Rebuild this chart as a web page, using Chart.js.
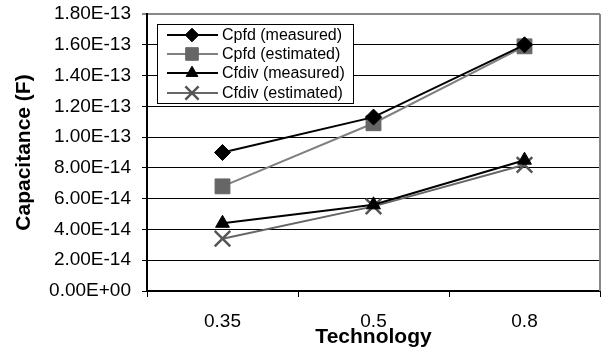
<!DOCTYPE html>
<html>
<head>
<meta charset="utf-8">
<script src="https://cdn.jsdelivr.net/npm/chart.js@4/dist/chart.umd.min.js"></script>
<style>
  html, body { margin: 0; padding: 0; background: #fff; }
  #wrap { width: 603px; height: 351px; }
</style>
</head>
<body>
<div id="wrap"><canvas id="grafico"></canvas></div>
<script>
// datos
const categories = ['0.35', '0.5', '0.8'];
const cpfdMeasured = [9.0e-14, 1.13e-13, 1.60e-13];
const cpfdEstimated = [6.8e-14, 1.09e-13, 1.59e-13];
const cfdivMeasured = [4.4e-14, 5.6e-14, 8.5e-14];
const cfdivEstimated = [3.4e-14, 5.5e-14, 8.2e-14];
const yTickValues = [0, 2e-14, 4e-14, 6e-14, 8e-14, 1e-13, 1.2e-13, 1.4e-13, 1.6e-13, 1.8e-13];
const yTickLabels = ['0.00E+00', '2.00E-14', '4.00E-14', '6.00E-14', '8.00E-14',
                     '1.00E-13', '1.20E-13', '1.40E-13', '1.60E-13', '1.80E-13'];

const FONT = 'Liberation Sans, Arial, sans-serif';

const series = [
  { label: 'Cpfd (measured)', data: cpfdMeasured, line: '#000', point: '#000', style: 'rectRot', radius: 8, bw: 1 },
  { label: 'Cpfd (estimated)', data: cpfdEstimated, line: '#808080', point: '#666', style: 'rect', radius: 10.5, bw: 1 },
  { label: 'Cfdiv (measured)', data: cfdivMeasured, line: '#000', point: '#000', style: 'triangle', radius: 8, bw: 1 },
  { label: 'Cfdiv (estimated)', data: cfdivEstimated, line: '#666', point: '#555', style: 'crossRot', radius: 11, bw: 2.5 }
];

// leyenda dibujada dentro del area y borde gris derecho
const extras = {
  id: 'extras',
  afterDraw(chart) {
    const ctx = chart.ctx;
    const area = chart.chartArea;
    ctx.save();
    ctx.strokeStyle = '#888';
    ctx.lineWidth = 2;
    ctx.beginPath();
    ctx.moveTo(area.right, area.top);
    ctx.lineTo(area.right, area.bottom);
    ctx.stroke();

    // caja de la leyenda
    const bx = 157.5, by = 24.5, bw = 196, bh = 79;
    ctx.fillStyle = '#fff';
    ctx.fillRect(bx, by, bw, bh);
    ctx.strokeStyle = '#000';
    ctx.lineWidth = 1;
    ctx.strokeRect(bx, by, bw, bh);

    const rows = [35, 54, 73, 93];
    ctx.font = '16px ' + FONT;
    ctx.textBaseline = 'middle';
    series.forEach((s, i) => {
      const y = rows[i];
      ctx.strokeStyle = s.line;
      ctx.lineWidth = 2;
      ctx.beginPath();
      ctx.moveTo(167, y);
      ctx.lineTo(218, y);
      ctx.stroke();
      ctx.fillStyle = s.point;
      ctx.strokeStyle = s.point;
      ctx.lineWidth = s.bw;
      Chart.helpers.drawPoint(ctx, { pointStyle: s.style, radius: s.radius * 0.85, rotation: 0, borderWidth: s.bw }, 192, y);
      ctx.fillStyle = '#000';
      ctx.fillText(s.label, 222, y + 1);
    });
    ctx.restore();
  }
};

const ctx = document.getElementById('grafico').getContext('2d');
const grafico = new Chart(ctx, {
  type: 'line',
  data: {
    labels: categories,
    datasets: series.map(s => ({
      label: s.label,
      data: s.data,
      borderColor: s.line,
      borderWidth: 2,
      backgroundColor: s.point,
      pointBackgroundColor: s.point,
      pointBorderColor: s.point,
      pointBorderWidth: s.bw,
      pointStyle: s.style,
      pointRadius: s.radius,
      pointHoverRadius: s.radius,
      tension: 0,
      fill: false
    }))
  },
  options: {
    responsive: true,
    maintainAspectRatio: false,
    animation: false,
    events: [],
    layout: { autoPadding: false, padding: { top: 14, right: 3, left: 0, bottom: 0 } },
    plugins: { legend: { display: false }, tooltip: { enabled: false } },
    scales: {
      x: {
        offset: true,
        afterFit: (scale) => { scale.height = 60; scale.paddingLeft = 0; scale.paddingRight = 0; },
        grid: { offset: true, drawOnChartArea: false, drawTicks: true, tickLength: 6, color: '#000' },
        border: { color: '#000', width: 2 },
        ticks: { color: '#000', font: { family: FONT, size: 19 }, padding: 13, maxRotation: 0 },
        title: { display: true, text: 'Technology', color: '#000',
                 font: { family: FONT, size: 21, weight: 'bold' }, padding: { top: 0, bottom: 1 } }
      },
      y: {
        min: 0,
        max: 1.8e-13,
        afterFit: (scale) => { scale.width = 147; scale.paddingTop = 0; scale.paddingBottom = 0; },
        afterBuildTicks: (scale) => { scale.ticks = yTickValues.map(v => ({ value: v })); },
        grid: {
          color: (c) => (c.tick && c.tick.value >= 1.79e-13 ? '#888' : '#000'),
          lineWidth: (c) => (c.tick && c.tick.value >= 1.79e-13 ? 2 : 1),
          tickLength: 5
        },
        border: { color: '#000', width: 2 },
        ticks: {
          color: '#000',
          font: { family: FONT, size: 19 },
          padding: 11,
          callback: (v, i) => yTickLabels[i]
        },
        title: { display: true, text: 'Capacitance (F)', color: '#000',
                 font: { family: FONT, size: 21, weight: 'bold' }, padding: { top: 12, bottom: 0 } }
      }
    }
  },
  plugins: [extras]
});
</script>
</body>
</html>
